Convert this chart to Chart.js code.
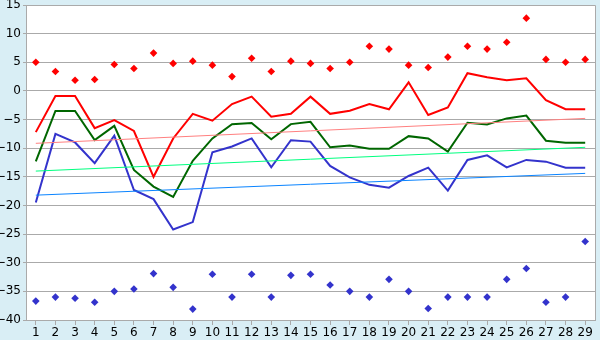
<!DOCTYPE html>
<html>
<head>
<meta charset="utf-8">
<script src="https://cdn.jsdelivr.net/npm/chart.js@4/dist/chart.umd.min.js"></script>
<style>
  html, body { margin: 0; padding: 0; background: #D9EEF5; }
  #wrap { width: 600px; height: 340px; }
</style>
</head>
<body>
<div id="wrap"><canvas id="c" width="600" height="340"></canvas></div>
<script>
// ---- data ----
const days = ['1','2','3','4','5','6','7','8','9','10','11','12','13','14','15','16','17','18','19','20','21','22','23','24','25','26','27','28','29'];

const dailyMax = [-7.2, -0.9, -0.9, -6.5, -5.1, -7.0, -15.0, -8.3, -4.0, -5.2, -2.3, -1.0, -4.5, -4.0, -1.0, -4.0, -3.45, -2.3, -3.2, 1.5, -4.2, -2.9, 3.1, 2.4, 1.85, 2.2, -1.6, -3.2, -3.2];
const dailyMean = [-12.3, -3.5, -3.5, -8.6, -6.1, -13.8, -16.7, -18.5, -12.2, -8.3, -5.8, -5.6, -8.45, -5.8, -5.4, -9.85, -9.55, -10.1, -10.1, -7.9, -8.3, -10.6, -5.55, -5.85, -4.8, -4.3, -8.7, -9.05, -9.05];
const dailyMin = [-19.5, -7.5, -9.0, -12.6, -7.8, -17.3, -18.9, -24.2, -22.9, -10.7, -9.7, -8.3, -13.35, -8.6, -8.85, -13.1, -15.1, -16.4, -16.9, -14.85, -13.4, -17.4, -12.05, -11.25, -13.35, -12.05, -12.35, -13.4, -13.4];

const recordMax = [5.0, 3.4, 1.85, 2.0, 4.6, 3.9, 6.6, 4.8, 5.2, 4.5, 2.5, 5.7, 3.4, 5.2, 4.8, 3.9, 5.0, 7.8, 7.3, 4.5, 4.1, 5.9, 7.8, 7.3, 8.5, 12.7, 5.5, 5.0, 5.5];
const recordMin = [-36.7, -36.0, -36.2, -36.9, -35.0, -34.6, -31.9, -34.3, -38.1, -32.0, -36.0, -32.0, -36.0, -32.2, -32.0, -33.9, -35.0, -36.0, -32.9, -35.0, -38.0, -36.0, -36.0, -36.0, -32.9, -31.0, -36.9, -36.0, -26.3];

// normals: value on first day and last day
const normalMax = [-9.15, -4.8];
const normalMean = [-14.0, -9.85];
const normalMin = [-18.2, -14.4];

const yTicks = { min: -40, max: 15, step: 5 };

// ---- chart ----
const first = days[0], last = days[days.length - 1];
const ends = arr => [{ x: first, y: arr[0] }, { x: last, y: arr[1] }];

const GRID = '#AAAAAA';

const plotBg = {
  id: 'plotBg',
  beforeDraw(chart) {
    const { ctx, chartArea: a } = chart;
    ctx.save();
    ctx.fillStyle = '#FFFFFF';
    ctx.fillRect(a.left, a.top, a.right - a.left, a.bottom - a.top);
    ctx.restore();
  },
  afterDraw(chart) {
    const { ctx, chartArea: a } = chart;
    ctx.save();
    ctx.strokeStyle = GRID;
    ctx.lineWidth = 1;
    ctx.beginPath();
    ctx.moveTo(a.left, a.top + 0.5);
    ctx.lineTo(a.right + 0.5, a.top + 0.5);
    ctx.lineTo(a.right + 0.5, a.bottom);
    ctx.stroke();
    ctx.restore();
  }
};

const lineDs = (data, color, width) => ({
  data, borderColor: color, backgroundColor: color, borderWidth: width,
  pointRadius: 0, tension: 0, fill: false
});
const dotDs = (data, color) => ({
  data, showLine: false, pointStyle: 'rectRot', pointRadius: 3.8,
  pointBorderWidth: 0, borderColor: color, backgroundColor: color, pointBackgroundColor: color
});

new Chart(document.getElementById('c'), {
  type: 'line',
  data: {
    labels: days,
    datasets: [
      lineDs(ends(normalMax), '#FF8080', 1),
      lineDs(ends(normalMean), '#00FF7F', 1),
      lineDs(ends(normalMin), '#0A84FF', 1),
      lineDs(dailyMin, '#3333CC', 2),
      lineDs(dailyMean, '#006600', 2),
      lineDs(dailyMax, '#FF0000', 2),
      dotDs(recordMax, '#FF0000'),
      dotDs(recordMin, '#3333CC')
    ]
  },
  options: {
    responsive: false,
    animation: false,
    events: [],
    layout: { padding: { left: 0, top: 5, right: 5, bottom: 0 } },
    plugins: { legend: { display: false }, tooltip: { enabled: false } },
    scales: {
      x: {
        type: 'category',
        offset: true,
        grid: { display: true, drawOnChartArea: false, drawTicks: true, tickLength: 5, color: GRID, offset: false },
        border: { display: true, color: GRID, width: 1 },
        ticks: { color: '#000', font: { family: 'DejaVu Sans', size: 12 }, padding: 1, maxRotation: 0, autoSkip: false },
        afterFit(s) { s.height = 20; s.paddingLeft = 0; s.paddingRight = 0; }
      },
      y: {
        min: yTicks.min, max: yTicks.max,
        grid: { color: GRID, lineWidth: 1, tickLength: 3 },
        border: { display: true, color: GRID, width: 1 },
        ticks: {
          stepSize: yTicks.step, color: '#000', padding: 2,
          font: { family: 'DejaVu Sans', size: 12 },
          callback: v => (v < 0 ? '\u2212' + Math.abs(v) : String(v))
        },
        afterFit(s) { s.width = 26; s.paddingTop = 0; s.paddingBottom = 0; }
      }
    }
  },
  plugins: [plotBg]
});
</script>
</body>
</html>
